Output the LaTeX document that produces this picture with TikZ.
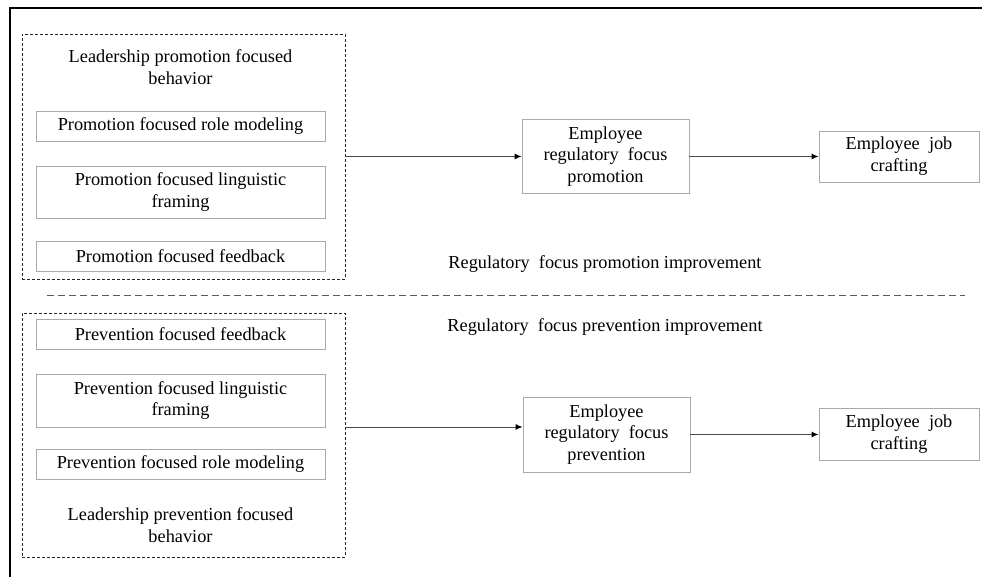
\documentclass[tikz,border=0pt]{standalone}
\usepackage{fontspec}
\setmainfont{Liberation Serif}
\usetikzlibrary{arrows.meta}
\definecolor{boxline}{HTML}{A9A9A9}
\definecolor{arrline}{HTML}{4A4A4A}
\definecolor{sepline}{HTML}{5A5A5A}
\begin{document}
\begin{tikzpicture}[x=1pt,y=-1pt,
  every node/.style={font=\fontsize{18.3}{21.8}\selectfont, inner sep=0pt, align=center},
  itembox/.style={draw=boxline, line width=0.9pt, minimum width=289pt},
  groupbox/.style={draw=black!85, line width=0.8pt, dash pattern=on 3pt off 2pt,
                   minimum width=323pt},
  outcome/.style={draw=boxline, line width=0.9pt},
  link/.style={draw=arrline, line width=1pt,
               -{Latex[length=7pt,width=6pt,color=black]}},
  divider/.style={draw=sepline, line width=0.9pt, dash pattern=on 7pt off 4pt}]
\useasboundingbox (0,0) rectangle (982,577);
\fill[white] (0,0) rectangle (982,577);

% outer frame (top and left edges)
\draw[line width=2pt, black] (10,578) -- (10,8) -- (983,8);

% ---------- promotion branch ----------
\node[groupbox, minimum height=245pt] (upg) at (183.5,156.5) {};
\node (uptitle) at (180.5,67) {Leadership promotion focused\\behavior};
\node[itembox, minimum height=30pt] (pr1) at (180.5,126) {Promotion focused role modeling};
\node[itembox, minimum height=52pt] (pr2) at (180.5,192) {Promotion focused linguistic\\framing};
\node[itembox, minimum height=30pt] (pr3) at (180.5,256) {Promotion focused feedback};

\node[outcome, minimum width=167pt, minimum height=74pt] (epro) at (605.5,156.5)
  {Employee\\regulatory~ focus\\promotion};
\node[outcome, minimum width=160pt, minimum height=51pt] (jcup) at (899,156.5)
  {Employee~ job\\crafting};

\draw[link] (upg.east) -- (epro.west);
\draw[link] (epro.east) -- (jcup.west);

\node (lblpro) at (605,264) {Regulatory~ focus promotion improvement};

% divider between the two branches
\coordinate (divL) at (47,295);
\coordinate (divR) at (965,295);
\draw[divider] (divL) -- (divR);

% ---------- prevention branch ----------
\node (lblpre) at (605,327) {Regulatory~ focus prevention improvement};

\node[groupbox, minimum height=244pt] (lowg) at (183.5,435) {};
\node[itembox, minimum height=30pt] (pv1) at (180.5,334) {Prevention focused feedback};
\node[itembox, minimum height=53pt] (pv2) at (180.5,400.5) {Prevention focused linguistic\\framing};
\node[itembox, minimum height=30pt] (pv3) at (180.5,464) {Prevention focused role modeling};
\node (lowtitle) at (180.5,525) {Leadership prevention focused\\behavior};

\node[outcome, minimum width=167pt, minimum height=75pt] (epre) at (606.5,434.5)
  {Employee\\regulatory~ focus\\prevention};
\node[outcome, minimum width=160pt, minimum height=52pt] (jclow) at (899,434.5)
  {Employee~ job\\crafting};

\draw[link] ([yshift=8pt]lowg.east) -- ([yshift=8pt]lowg.east -| epre.west);
\draw[link] (epre.east) -- (jclow.west);
\end{tikzpicture}
\end{document}
